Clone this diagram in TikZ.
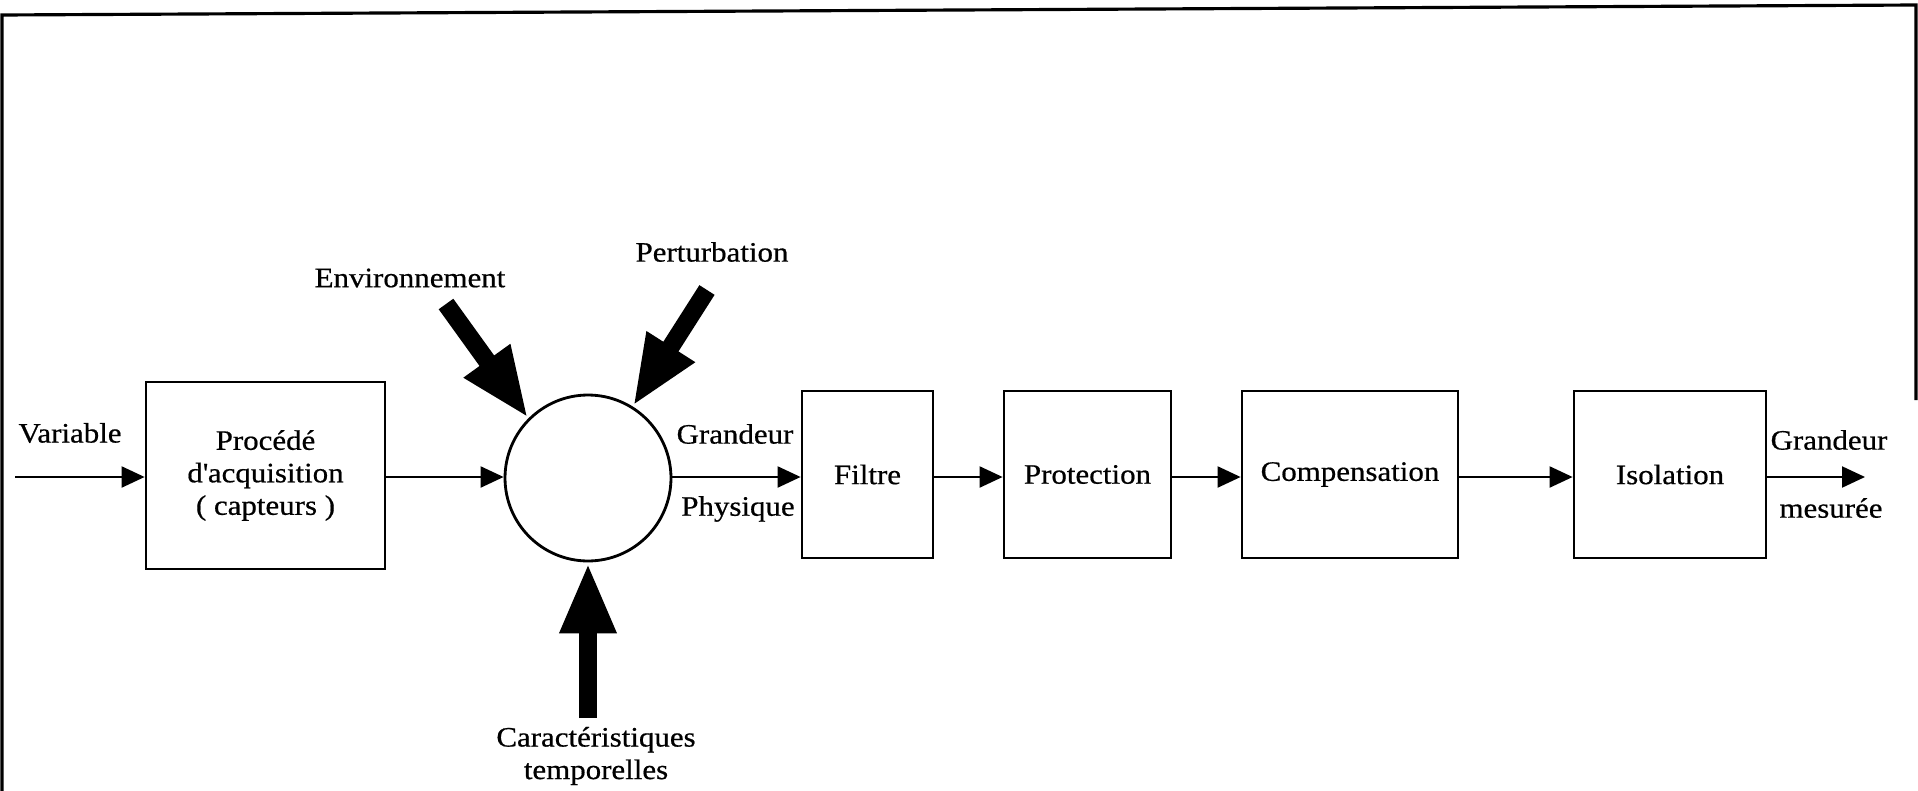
\documentclass[tikz,border=0pt]{standalone}
\usepackage{fontspec}
\setmainfont[FakeStretch=1.1, FakeBold=0.6]{Liberation Serif}
\usetikzlibrary{arrows.meta}

\begin{document}
\begin{tikzpicture}[x=0.02cm, y=-0.02cm,
        font=\fontsize{16}{18.5}\selectfont,
        block/.style={draw, line width=1.6pt, inner sep=0pt, align=center},
        flow/.style={line width=1.2pt, -{Triangle[length=0.46cm, width=0.42cm]}},
        fat/.style={line width=0.36cm, -{Triangle[length=1.42cm, width=1.04cm]}}]
    \useasboundingbox (0,0) rectangle (1918,791);

    % Frame of the scanned page
    \draw[line width=1.8pt] (2,791) -- (2,15) -- (1916,5) -- (1916,400);

    % Blocks
    \node[block, minimum width=4.78cm, minimum height=3.74cm] (proc) at (265.5,475.5) {Procédé\\d\textquotesingle acquisition\\( capteurs )};
    \node[draw, circle, line width=1.6pt, minimum size=3.32cm, inner sep=0pt] (circ) at (588,478) {};
    \node[block, minimum width=2.62cm, minimum height=3.34cm] (filtre) at (867.5,474.5) {Filtre};
    \node[block, minimum width=3.34cm, minimum height=3.34cm] (prot) at (1087.5,474.5) {Protection};
    \node[block, minimum width=4.32cm, minimum height=3.34cm] (comp) at (1350,474.5) {Compensation};
    \node[block, minimum width=3.84cm, minimum height=3.34cm] (isol) at (1670,474.5) {Isolation};

    % Signal path
    \coordinate (in) at (15,477);
    \coordinate (out) at (1865,477);
    \draw[flow] (in) -- (proc.west |- in);
    \draw[flow] (proc.east |- in) -- (circ.west |- in);
    \draw[flow] (circ.east |- in) -- (filtre.west |- in);
    \draw[flow] (filtre.east |- in) -- (prot.west |- in);
    \draw[flow] (prot.east |- in) -- (comp.west |- in);
    \draw[flow] (comp.east |- in) -- (isol.west |- in);
    \draw[flow] (isol.east |- in) -- (out);

    % Disturbances
    \coordinate (envtail) at (446,304);
    \coordinate (perttail) at (707,290);
    \coordinate (cartail) at (588,718);
    \draw[fat] (envtail) -- (circ.135);
    \draw[fat] (perttail) -- (circ.58);
    \draw[fat] (cartail) -- (circ.south);

    % Labels
    \node (var) at (70,433) {Variable};
    \node (gr1) at (735,434) {Grandeur};
    \node (phys) at (738,509) {Physique};
    \node (gr2) at (1829,440) {Grandeur};
    \node (mes) at (1831,508) {mesurée};
    \node (env) at (410,278) {Environnement};
    \node (pert) at (712,252) {Perturbation};
    \node[align=center] (car) at (596,756) {Caractéristiques\\temporelles};
\end{tikzpicture}
\end{document}
